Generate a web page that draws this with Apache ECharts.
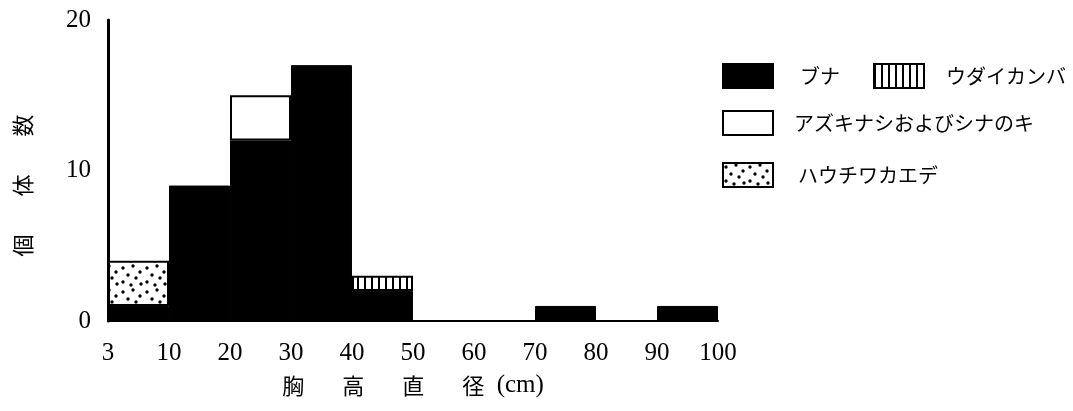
<!DOCTYPE html>
<html>
<head>
<meta charset="utf-8">
<script src="https://cdn.jsdelivr.net/npm/echarts@6/dist/echarts.min.js"></script>
<style>html,body{margin:0;padding:0;background:#fff}#c{width:1073px;height:411px}</style>
</head>
<body>
<div id="c"></div>
<script>
// ---- data ----
const categories = ['3-10','10-20','20-30','30-40','40-50','50-60','60-70','70-80','80-90','90-100'];
const xTickLabels = ['3','10','20','30','40','50','60','70','80','90','100'];
const yTicks = [0, 10, 20];
const buna       = [1, 9, 12, 17, 2, 0, 0, 1, 0, 1];   // ブナ
const udaikanba  = [0, 0, 0, 0, 1, 0, 0, 0, 0, 0];     // ウダイカンバ
const azukinashi = [0, 0, 3, 0, 0, 0, 0, 0, 0, 0];     // アズキナシおよびシナのキ
const hauchiwa   = [3, 0, 0, 0, 0, 0, 0, 0, 0, 0];     // ハウチワカエデ

// ---- patterns ----
function stipplePattern() {
  const c = document.createElement('canvas');
  c.width = 24; c.height = 24;
  const g = c.getContext('2d');
  g.fillStyle = '#fff'; g.fillRect(0, 0, 24, 24);
  g.fillStyle = '#000';
  const dots = [[3,4],[13,2],[20,8],[8,11],[16,14],[3,18],[11,21],[21,20]];
  dots.forEach(d => { g.beginPath(); g.arc(d[0], d[1], 1.7, 0, Math.PI * 2); g.fill(); });
  return { image: c, repeat: 'repeat' };
}
function stripePattern() {
  const c = document.createElement('canvas');
  c.width = 7; c.height = 10;
  const g = c.getContext('2d');
  g.fillStyle = '#fff'; g.fillRect(0, 0, 7, 10);
  g.fillStyle = '#000'; g.fillRect(0, 0, 2, 10);
  return { image: c, repeat: 'repeat' };
}
const nz = a => a.map(v => v === 0 ? '-' : v);

const serif = 'Liberation Serif';
const cjk = 'Noto Sans CJK JP';

const chart = echarts.init(document.getElementById('c'), null, { renderer: 'canvas' });
chart.setOption({
  animation: false,
  backgroundColor: '#fff',
  grid: { left: 107, right: 355, top: 20, bottom: 90, containLabel: false },
  xAxis: [
    {
      type: 'category', data: categories, boundaryGap: true,
      axisLine: { show: true, lineStyle: { color: '#000', width: 2 } },
      axisTick: { show: false }, axisLabel: { show: false }, splitLine: { show: false }
    },
    {
      type: 'value', min: 0, max: 10, interval: 1, position: 'bottom',
      axisLine: { show: false }, axisTick: { show: false }, splitLine: { show: false },
      axisLabel: {
        showMinLabel: true, showMaxLabel: true, margin: 20,
        formatter: v => xTickLabels[v] || '',
        color: '#000', fontFamily: serif, fontSize: 25
      },
      name: '{c|胸}{s|　　}{c|高}{s|　　}{c|直}{s|　　}{c|径}{p|  (cm)}',
      nameLocation: 'middle', nameGap: 52,
      nameTextStyle: {
        rich: {
          c: { fontFamily: cjk, fontSize: 22, color: '#000' },
          s: { fontFamily: cjk, fontSize: 19, color: '#000' },
          p: { fontFamily: serif, fontSize: 25, color: '#000' }
        }
      }
    }
  ],
  yAxis: {
    type: 'value', min: 0, max: 20, interval: 10,
    axisLine: { show: true, lineStyle: { color: '#000', width: 3 } },
    axisTick: { show: false }, splitLine: { show: false },
    axisLabel: { margin: 17, color: '#000', fontFamily: serif, fontSize: 25,
      formatter: v => yTicks.indexOf(v) >= 0 ? String(v) : '' },
    name: '{c|個}{s|　　}{c|体}{s|　　}{c|数}{t|　}',
    nameLocation: 'middle', nameRotate: 90, nameGap: 70,
    nameTextStyle: {
      rich: {
        c: { fontFamily: cjk, fontSize: 22, color: '#000' },
        s: { fontFamily: cjk, fontSize: 19, color: '#000' },
        t: { fontFamily: cjk, fontSize: 30, color: '#000' }
      }
    }
  },
  legend: [
    {
      left: 722, top: 63, padding: 0, orient: 'horizontal', itemWidth: 50, itemHeight: 24, itemGap: 33,
      icon: 'rect', selectedMode: false,
      textStyle: { fontFamily: cjk, fontSize: 20, color: '#000' },
      data: [
        { name: 'ブナ', textStyle: { padding: [0, 0, 0, 22] } },
        { name: 'ウダイカンバ', textStyle: { padding: [0, 0, 0, 17] } }
      ]
    },
    {
      left: 722, top: 110, padding: 0, itemWidth: 50, itemHeight: 24, icon: 'rect', selectedMode: false,
      textStyle: { fontFamily: cjk, fontSize: 20, color: '#000', padding: [0, 0, 0, 16] },
      data: ['アズキナシおよびシナのキ']
    },
    {
      left: 722, top: 162, padding: 0, itemWidth: 50, itemHeight: 24, icon: 'rect', selectedMode: false,
      textStyle: { fontFamily: cjk, fontSize: 20, color: '#000', padding: [0, 0, 0, 20] },
      data: ['ハウチワカエデ']
    }
  ],
  series: [
    { name: 'ブナ', type: 'bar', stack: 'a', data: buna, barCategoryGap: '0%', barWidth: '100%',
      itemStyle: { color: '#000', borderColor: '#000', borderWidth: 1 } },
    { name: 'ウダイカンバ', type: 'bar', stack: 'a', data: nz(udaikanba), barWidth: '100%',
      itemStyle: { color: stripePattern(), borderColor: '#000', borderWidth: 2 } },
    { name: 'アズキナシおよびシナのキ', type: 'bar', stack: 'a', data: nz(azukinashi), barWidth: '100%',
      itemStyle: { color: '#fff', borderColor: '#000', borderWidth: 2 } },
    { name: 'ハウチワカエデ', type: 'bar', stack: 'a', data: nz(hauchiwa), barWidth: '100%',
      itemStyle: { color: stipplePattern(), borderColor: '#000', borderWidth: 2 } }
  ]
});
</script>
</body>
</html>
